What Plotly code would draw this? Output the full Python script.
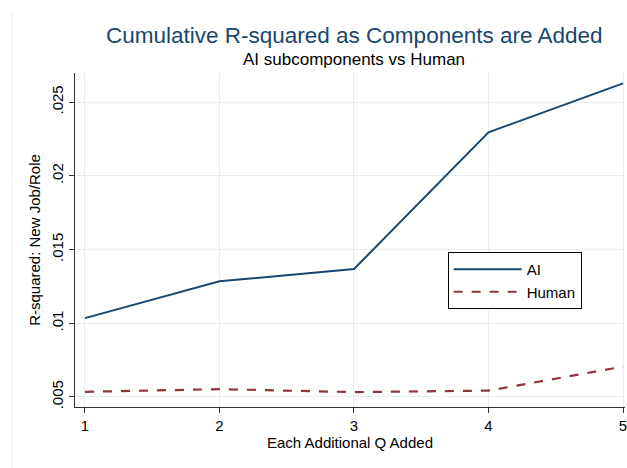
import plotly.graph_objects as go

x_vals = [1, 2, 3, 4, 5]
ai_vals = [0.01035, 0.01285, 0.01368, 0.02295, 0.02628]
human_vals = [0.00535, 0.00553, 0.00533, 0.00543, 0.00706]
y_tick_vals = [0.005, 0.01, 0.015, 0.02, 0.025]
y_tick_text = [".005", ".01", ".015", ".02", ".025"]
x_tick_vals = [1, 2, 3, 4, 5]
x_tick_text = ["1", "2", "3", "4", "5"]

W, H = 627, 468
L, R, T, B = 75, 0, 73, 61
pw = W - L - R
ph = H - T - B

def px_x(px):
    return (px - L) / pw

def px_y(py):
    return (H - B - py) / ph

FONT = "Liberation Sans, Arial, Helvetica, sans-serif"
GRID = "#e6eef0"

fig = go.Figure()
fig.add_trace(go.Scatter(x=x_vals, y=ai_vals, mode="lines", name="AI",
                         line=dict(color="#1a476f", width=2)))
fig.add_trace(go.Scatter(x=x_vals, y=human_vals, mode="lines", name="Human",
                         line=dict(color="#90353b", width=2.2, dash="dash")))

fig.update_layout(
    width=W, height=H,
    margin=dict(l=L, r=R, t=T, b=B),
    paper_bgcolor="white", plot_bgcolor="white",
    font=dict(family=FONT, size=15, color="black"),
    showlegend=True,
    legend=dict(x=px_x(449), y=px_y(252), xanchor="left", yanchor="top",
                bgcolor="white", bordercolor="black", borderwidth=1,
                font=dict(size=15), itemwidth=68, tracegroupgap=0),
    xaxis=dict(range=[1 - 10 / 135, 5 + 2 / 135], tickmode="array",
               tickvals=x_tick_vals, ticktext=x_tick_text,
               ticklabeloverflow="allow",
               showgrid=True, gridcolor=GRID, gridwidth=1,
               zeroline=False, showline=True, linecolor="#333333", linewidth=1.2,
               ticks="outside", ticklen=5, tickcolor="#333333",
               tickfont=dict(size=15),
               title=dict(text="Each Additional Q Added", font=dict(size=15), standoff=3)),
    yaxis=dict(range=[0.00432, 0.02698], tickmode="array",
               tickvals=y_tick_vals, ticktext=y_tick_text, tickangle=-90,
               showgrid=True, gridcolor=GRID, gridwidth=1,
               zeroline=False, showline=True, linecolor="#333333", linewidth=1.2,
               ticks="outside", ticklen=5, tickcolor="#333333",
               tickfont=dict(size=15),
               title=dict(text="R-squared: New Job/Role", font=dict(size=15), standoff=4)),
    annotations=[
        dict(text="Cumulative R-squared as Components are Added",
             xref="paper", yref="paper", x=px_x(356), y=px_y(35),
             xanchor="center", yanchor="middle", showarrow=False,
             font=dict(size=22.5, color="#1a476f", family=FONT)),
        dict(text="AI subcomponents vs Human",
             xref="paper", yref="paper", x=px_x(355), y=px_y(60),
             xanchor="center", yanchor="middle", showarrow=False,
             font=dict(size=17, color="black", family=FONT)),
    ],
    shapes=[
        dict(type="line", xref="paper", yref="paper",
             x0=px_x(12), x1=px_x(12), y0=px_y(H), y1=px_y(12),
             line=dict(color="#ececec", width=1)),
    ],
)

fig.write_html("out.html")
